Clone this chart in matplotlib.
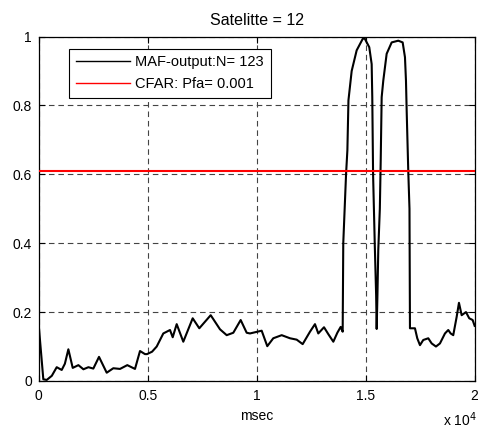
import matplotlib
matplotlib.use("Agg")
import matplotlib.pyplot as plt
from matplotlib.ticker import FixedLocator

plt.rcParams['font.family'] = ['Liberation Sans', 'DejaVu Sans']

# MAF output curve (x in msec, y normalized)
t_msec = [0, 211, 367, 600, 826, 1055, 1200, 1360, 1560, 1820, 2050, 2280, 2505,
          2766, 3119, 3422, 3729, 4064, 4417, 4647, 4876, 4968, 5200, 5413, 5716,
          6023, 6147, 6330, 6633, 7064, 7367, 7890, 8317, 8624, 8927, 9266, 9541,
          9693, 10229, 10486, 10761, 11147, 11528, 11835, 12110, 12445, 12674,
          12826, 13089, 13286, 13516, 13700, 13853, 13945, 13972, 14100, 14161,
          14210, 14358, 14587, 14862, 14950, 15165, 15275, 15303, 15340, 15420,
          15480, 15505, 15540, 15578, 15650, 15690, 15734, 15808, 15963, 16193,
          16495, 16697, 16803, 16849, 16881, 16954, 17010, 17032, 17110, 17261,
          17367, 17491, 17642, 17872, 18028, 18225, 18408, 18638, 18789, 18899,
          19018, 19174, 19280, 19404, 19601, 19752, 19908, 20000]
maf = [0.162, 0.005, 0.003, 0.015, 0.04, 0.032, 0.05, 0.092, 0.038, 0.046, 0.034,
       0.04, 0.036, 0.07, 0.024, 0.037, 0.035, 0.046, 0.035, 0.087, 0.078, 0.078,
       0.085, 0.10, 0.138, 0.148, 0.127, 0.165, 0.114, 0.182, 0.153, 0.191, 0.15,
       0.133, 0.14, 0.177, 0.14, 0.138, 0.146, 0.101, 0.124, 0.133, 0.124, 0.12,
       0.107, 0.143, 0.165, 0.138, 0.156, 0.136, 0.114, 0.14, 0.157, 0.143, 0.40,
       0.60, 0.67, 0.815, 0.90, 0.96, 0.993, 0.995, 0.969, 0.92, 0.824, 0.60,
       0.39, 0.25, 0.151, 0.25, 0.38, 0.50, 0.64, 0.824, 0.872, 0.95, 0.983,
       0.988, 0.983, 0.94, 0.872, 0.785, 0.61, 0.50, 0.153, 0.153, 0.153, 0.124,
       0.104, 0.119, 0.124, 0.109, 0.10, 0.109, 0.138, 0.148, 0.138, 0.133, 0.186,
       0.227, 0.191, 0.20, 0.182, 0.177, 0.16]

threshold = 0.61
x_ticks = [0, 5000, 10000, 15000, 20000]
x_tick_labels = ['0', '0.5', '1', '1.5', '2']
y_ticks = [0, 0.2, 0.4, 0.6, 0.8, 1.0]
y_tick_labels = ['0', '0.2', '0.4', '0.6', '0.8', '1']

fig = plt.figure(figsize=(4.78, 4.30), dpi=100)
ax = fig.add_axes([0.081, 0.114, 0.912, 0.801])

ax.plot(t_msec, maf, color='black', lw=1.5, label='MAF-output:N= 123', zorder=3)
ax.axhline(threshold, color='red', lw=1.5, label='CFAR: Pfa= 0.001', zorder=3)

ax.set_xlim(0, 20000)
ax.set_ylim(0, 1)
ax.xaxis.set_major_locator(FixedLocator(x_ticks))
ax.set_xticklabels(x_tick_labels)
ax.yaxis.set_major_locator(FixedLocator(y_ticks))
ax.set_yticklabels(y_tick_labels)
ax.tick_params(direction='in', length=4, width=0.8, top=True, right=True,
               labelsize=10)
ax.tick_params(axis='x', pad=6)
ax.tick_params(axis='y', pad=5)
ax.grid(True, color='#444444', linestyle=(0, (5, 3.5)), linewidth=0.8)
for s in ax.spines.values():
    s.set_linewidth(0.9)

ax.set_title('Satelitte = 12', fontsize=11.5, pad=8)
ax.set_xlabel('msec', fontsize=10, labelpad=4)
fig.text(0.997, 0.002, r'x 10$^4$', ha='right', va='bottom', fontsize=10)

leg = ax.legend(loc='upper left', bbox_to_anchor=(0.0695, 0.965), borderaxespad=0,
                fancybox=False, edgecolor='black', framealpha=1, fontsize=10.5,
                handlelength=3.7, handletextpad=0.4, borderpad=0.45, labelspacing=0.55)
leg.get_frame().set_linewidth(0.8)
for h in leg.get_lines():
    h.set_linewidth(1.0)

fig.savefig('out.png', dpi=100)
